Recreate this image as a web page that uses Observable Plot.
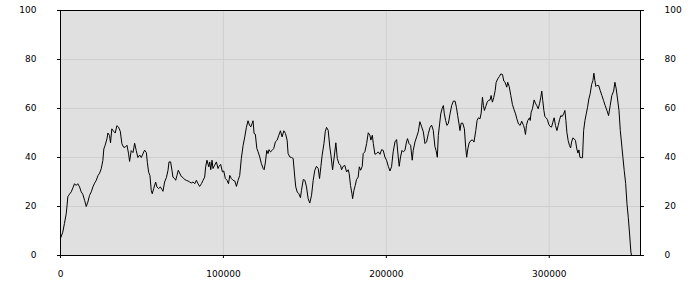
<!DOCTYPE html>
<html><head><meta charset="utf-8">
<script src="https://cdn.jsdelivr.net/npm/d3@7"></script>
<script src="https://cdn.jsdelivr.net/npm/@observablehq/plot@0.6"></script>
<style>
body{margin:0;background:#fff;}
</style></head><body><div id="chart"></div>
<script>
const distanceK = [0,1.4,2.4,3.5,4.1,4.5,5.5,6.6,7.6,8.6,9.6,10.6,11.7,12.7,13.7,14.8,15.8,16.8,17.8,18.9,19.9,20.9,21.9,23.0,24.0,25.0,26.0,26.6,27.4,28.5,29.1,30.1,30.7,31.5,32.6,33.6,34.6,35.6,36.7,37.7,38.7,39.7,40.8,41.8,42.4,43.4,44.5,45.5,46.5,47.5,48.6,49.6,50.6,51.6,52.7,53.3,54.1,54.9,
55.7,56.3,57.2,58.4,59.2,60.2,61.3,62.3,62.9,63.9,65.0,66.0,66.6,67.6,68.4,69.0,70.1,70.7,71.5,72.3,73.1,74.1,75.2,76.2,77.2,78.3,79.3,80.3,81.3,82.4,83.4,84.4,85.4,86.5,87.5,88.5,89.1,89.9,91.0,91.6,92.2,93.0,93.6,94.6,95.7,96.7,97.3,98.3,99.4,100.2,101.2,102.2,103.1,103.9,104.9,105.9,107.0,108.0,109.0,110.0,111.0,112.1,113.1,
114.1,115.1,116.0,116.8,117.6,118.2,118.8,119.6,120.5,121.3,122.3,123.3,124.4,125.0,125.8,126.6,127.4,128.0,128.9,129.9,130.9,131.9,133.0,134.0,135.0,136.0,137.1,138.1,139.1,139.7,140.8,141.8,142.8,143.8,144.4,145.3,146.3,147.3,147.9,149.0,150.0,151.0,152.0,153.0,154.1,155.1,156.1,157.1,158.2,159.0,159.8,160.6,161.7,162.5,163.3,164.3,165.3,166.0,167.0,168.0,169.0,169.9,170.9,171.9,
172.5,173.5,174.5,175.6,176.6,177.2,178.0,178.9,179.3,180.1,180.9,181.7,182.7,183.4,184.2,185.2,185.8,186.8,187.9,188.9,189.9,190.5,191.4,192.0,193.0,194.0,195.0,196.1,197.1,198.1,199.1,200.1,201.2,202.2,203.2,204.2,205.3,206.3,207.3,207.9,208.7,209.6,210.4,211.4,212.4,213.0,213.9,214.9,215.9,216.5,217.6,218.6,219.6,220.6,221.7,222.7,223.7,224.7,225.8,226.8,227.8,228.8,229.8,
230.5,231.3,231.9,232.7,233.4,234.2,235.0,235.6,236.4,237.2,238.1,239.1,240.1,241.1,242.2,243.0,243.8,244.6,245.2,245.9,246.9,247.9,248.7,249.3,250.0,250.8,251.8,252.8,253.8,254.9,255.7,256.5,257.5,258.2,259.0,259.6,260.2,261.0,261.9,262.7,263.7,264.3,265.1,265.9,266.8,267.4,268.4,269.4,270.2,271.3,272.1,272.9,273.9,274.5,275.4,276.4,277.4,278.4,279.3,280.1,281.1,282.1,283.1,284.2,284.8,285.4,286.0,286.8,287.9,
288.3,288.9,289.7,290.7,291.5,292.3,293.2,294.0,294.8,295.4,296.0,296.7,297.3,298.1,298.9,299.7,300.5,301.4,302.2,303.0,303.8,304.7,305.5,306.3,307.1,307.9,308.8,309.6,310.2,310.8,311.6,312.4,313.1,313.7,314.5,315.3,316.1,316.9,317.6,318.2,318.8,319.6,320.4,321.1,321.9,322.7,323.5,324.3,325.1,326.0,326.8,327.4,328.0,328.6,329.2,330.3,331.3,332.3,333.3,334.3,335.4,336.4,337.4,338.4,339.5,340.3,341.1,341.9,342.8,343.6,344.6,345.2,346.0,346.9,347.7,348.5,349.3,350.1,350.5];
const values = [7,9.5,13,17,21,24,25,26,27.6,29.3,28.6,29.3,28,26,25,22.5,20,21.8,24.5,26,28,29.5,30.6,32.6,33.6,35.4,38.8,43.5,45,47.6,50,49,46,51.7,50.7,50,53,52.4,50.7,45.6,44.2,44.2,45,41.5,38.4,42.8,42,45.8,42.8,40,41,40,41.5,43,42,38,34,32.6,
26.6,25.2,27.3,30,28,27.3,28,26.9,26.2,30,31.8,34.8,38.2,38.2,34.8,32,31.4,30.7,32.7,34.8,33.7,32.3,31.8,31,30.7,30.4,30,29.6,30,29.3,30.7,29.3,28.2,29.3,30.7,32,36.2,38.9,36.2,38.2,35,38.9,35.5,36.8,38.2,35.5,36.4,37.2,34.1,34.5,31.4,30.7,29.3,32.7,31.4,30.7,30.4,28.2,30.7,32.7,39.6,45,48.4,
52.3,55,53.2,52.5,53.9,55,49.8,49.5,43.7,42.3,40.2,37.5,35.5,35,38.2,42.9,41.6,43.2,42.3,42.9,43.7,46.4,47.1,49.1,50.9,48.4,50.9,49.8,47.1,41.6,40.2,40,39.6,32,28,25.9,25.2,23.6,26.6,31,30.7,28,23.2,21.4,24.6,30.7,34.8,36.4,35.5,31.4,36.2,40.9,45.7,50.5,52.3,51.1,44.3,40.9,35,40.2,46,39.6,37.5,36.8,
35,36.4,36.8,34.1,35,33.4,28.6,25.2,23.2,26.6,28.6,31,32,36.2,34.8,36.4,41.6,42.3,45.7,50.1,49.1,47.1,49.1,45.7,41.3,41.6,42.3,41.3,43.2,42.9,40.2,38.9,36.4,34.5,36.2,42.3,46.4,47.3,40.2,36.4,40.2,42.9,42.3,42.9,46.4,47.7,45.7,45,38.9,42.9,46.4,48.4,50.5,54.6,52.5,50.5,45.7,46.4,49.8,52.3,53.2,51.1,44.5,
42.9,40.1,49,53.7,57.8,59.9,61.2,57.8,55.1,53.1,54,57.8,61.2,63,63,60.5,57.1,53.7,51,54,54,51.7,44.2,40.1,43.5,45.9,46.9,47.2,46.3,51,55.1,56.2,55.8,58.1,64.6,61.2,59.2,60.8,62.6,63.3,63.5,65.3,62.6,64.4,67.3,70.7,72.1,73.1,74.1,73.9,71.2,70.7,68.7,70.7,69,65.3,61.6,59.5,57.8,55.8,53.7,53.1,54.8,53.1,51.7,49.4,53.1,55.1,56.2,
55.1,58.5,59.9,63.5,62.2,61.2,59.9,61.9,64.6,67.1,63.3,59.2,56.7,56.2,55.4,53.5,52.7,52.4,54.4,56.2,53.1,51,53.1,55.4,57.1,56.7,57.8,59.2,55.1,50.3,46.9,44.9,43.9,46.3,48,47.6,46.9,43.5,41.8,43.1,40.1,39.9,39.9,51,55.1,57.8,60.5,63.9,66,69.8,71.4,74.4,71.4,69,69.4,69.4,67.3,65.3,63.3,61.2,59.2,57.1,61.2,65.3,67.1,70.7,68,63.9,59.2,51,44.2,40.1,34.7,29.3,21.1,15.6,8.8,1.4,0];
const xTicks = [0, 100000, 200000, 300000];
const yTicks = [0, 20, 40, 60, 80, 100];

const data = distanceK.map((d, i) => ({x: d * 1000, y: values[i]}));

const chart = Plot.plot({
  width: 700,
  height: 300,
  marginLeft: 60,
  marginRight: 60,
  marginTop: 10,
  marginBottom: 45,
  style: {fontFamily: "DejaVu Sans", fontSize: "9px", color: "#000", background: "#fff"},
  x: {domain: [0, 356000], label: null},
  y: {domain: [0, 100], label: null},
  marks: [
    Plot.frame({fill: "#e0e0e0"}),
    Plot.gridX(xTicks, {stroke: "#cfcfcf", strokeOpacity: 1}),
    Plot.gridY(yTicks, {stroke: "#cfcfcf", strokeOpacity: 1}),
    Plot.line(data, {x: "x", y: "y", stroke: "#000", strokeWidth: 1}),
    Plot.frame({stroke: "#000"}),
    Plot.axisX(xTicks, {tickSize: 3, tickPadding: 12, tickFormat: d => String(d), label: null}),
    Plot.axisY(yTicks, {anchor: "left", tickSize: 3, tickPadding: 21, label: null}),
    Plot.axisY(yTicks, {anchor: "right", tickSize: 3, tickPadding: 21, label: null})
  ]
});
document.getElementById("chart").appendChild(chart);
</script>
</body></html>
